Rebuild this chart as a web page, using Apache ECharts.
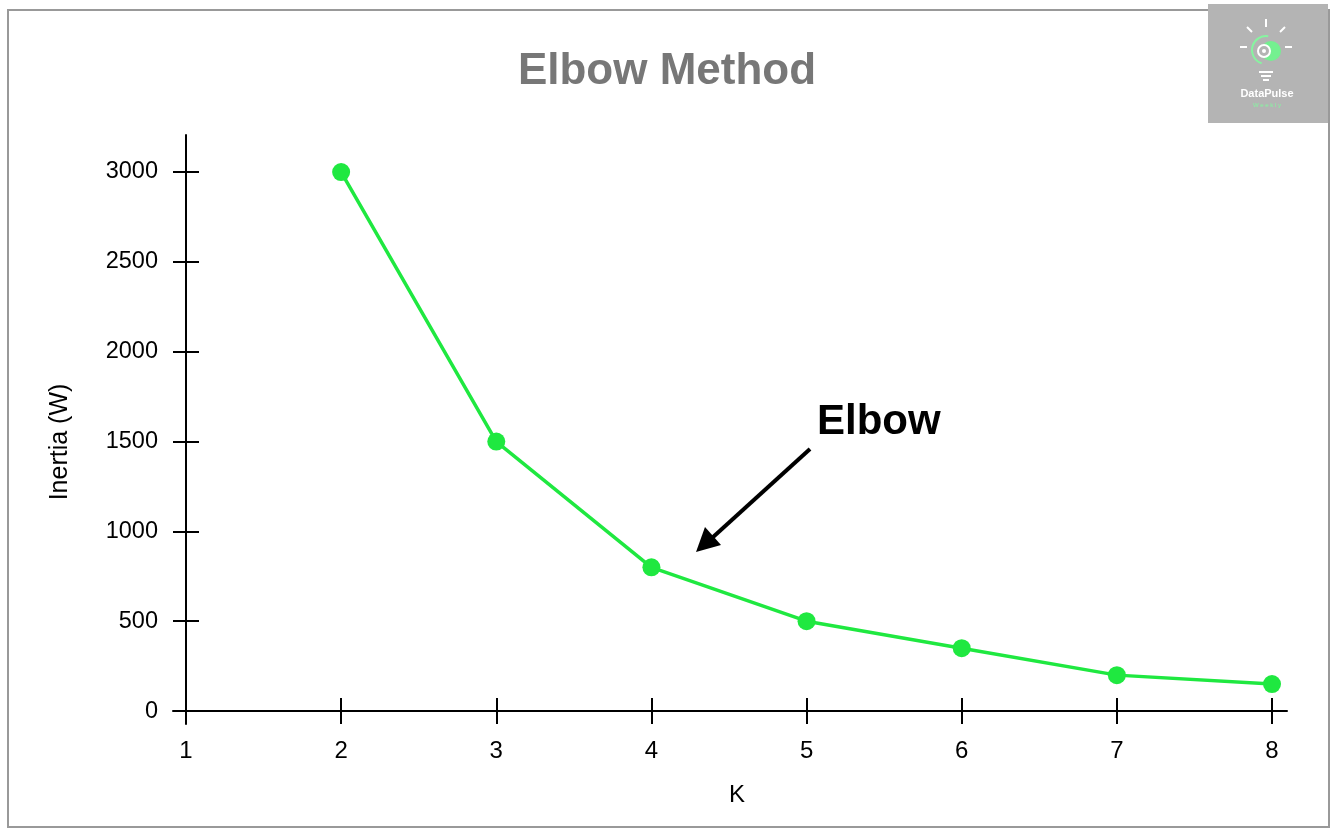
<!DOCTYPE html>
<html>
<head>
<meta charset="utf-8">
<script src="https://cdn.jsdelivr.net/npm/echarts@6/dist/echarts.min.js"></script>
<style>html,body{margin:0;padding:0;background:#fff;}#c{width:1338px;height:832px;}</style>
</head>
<body>
<div id="c"></div>
<script>
const kValues = [2, 3, 4, 5, 6, 7, 8];
const inertia = [3000, 1500, 800, 500, 350, 200, 150];
const xTicks = [1, 2, 3, 4, 5, 6, 7, 8];
const yTicks = [0, 500, 1000, 1500, 2000, 2500, 3000];

const FONT = '"Liberation Sans", Arial, sans-serif';
const chart = echarts.init(document.getElementById('c'));

const xBase = {
  type: 'value', min: 0.9162, max: 8.0967,
  splitLine: { show: false },
  axisLine: { show: true, onZero: true, lineStyle: { color: '#000', width: 2 } },
  axisTick: { show: true, length: 13, customValues: xTicks, lineStyle: { color: '#000', width: 2 } },
};
const yBase = {
  type: 'value', min: -72, max: 3206, offset: -13, position: 'left',
  splitLine: { show: false },
  axisLine: { show: true, lineStyle: { color: '#000', width: 2 } },
  axisTick: { show: true, length: 13, customValues: yTicks, lineStyle: { color: '#000', width: 2 } },
};

chart.setOption({
  backgroundColor: '#fff',
  animation: false,
  grid: { left: 173, right: 51, top: 135, bottom: 108 },
  xAxis: [
    Object.assign({}, xBase, {
      name: 'K', nameLocation: 'middle', nameGap: 59,
      nameTextStyle: { fontFamily: FONT, fontSize: 24, color: '#000', padding: [0, 0, 0, 14] },
      axisLabel: { show: true, customValues: xTicks, margin: 15, fontFamily: FONT, fontSize: 24, color: '#000', formatter: v => String(v) }
    }),
    Object.assign({}, xBase, {
      position: 'bottom',
      axisLine: { show: false },
      axisTick: { show: true, inside: true, length: 13, customValues: xTicks, lineStyle: { color: '#000', width: 2 } },
      axisLabel: { show: false }
    })
  ],
  yAxis: [
    Object.assign({}, yBase, {
      axisLabel: { show: true, customValues: yTicks, margin: 28, fontFamily: FONT, fontSize: 23.5, color: '#000', formatter: v => String(v) }
    }),
    Object.assign({}, yBase, {
      axisLine: { show: false },
      axisTick: { show: true, inside: true, length: 13, customValues: yTicks, lineStyle: { color: '#000', width: 2 } },
      axisLabel: { show: false }
    })
  ],
  series: [{
    type: 'line',
    data: kValues.map((k, i) => [k, inertia[i]]),
    symbol: 'circle', symbolSize: 18,
    lineStyle: { color: '#1fe840', width: 3.5 },
    itemStyle: { color: '#1fe840' },
    clip: false
  }],
  graphic: [
    { type: 'rect', shape: { x: 8, y: 10, width: 1321, height: 817 }, style: { fill: 'none', stroke: '#999', lineWidth: 2 }, z: 0 },
    { type: 'text', x: 60, y: 442, rotation: Math.PI / 2, style: { text: 'Inertia (W)', fontFamily: FONT, fontSize: 25, fill: '#000', align: 'center', verticalAlign: 'middle' } },
    { type: 'text', x: 667, y: 72, style: { text: 'Elbow Method', fontFamily: FONT, fontSize: 44, fontWeight: 'bold', fill: '#777', align: 'center', verticalAlign: 'middle' } },
    { type: 'text', x: 817, y: 422, style: { text: 'Elbow', fontFamily: FONT, fontSize: 42, fontWeight: 'bold', fill: '#000', align: 'left', verticalAlign: 'middle' } },
    { type: 'line', shape: { x1: 810, y1: 449, x2: 712, y2: 538 }, style: { stroke: '#000', lineWidth: 4 } },
    { type: 'polygon', shape: { points: [[696, 552], [705, 527], [721, 545]] }, style: { fill: '#000' } },
    // logo
    { type: 'group', z: 10, children: [
      { type: 'rect', shape: { x: 1208, y: 4, width: 120, height: 119 }, style: { fill: '#b4b4b4' } },
      { type: 'line', shape: { x1: 1266, y1: 19, x2: 1266, y2: 27 }, style: { stroke: '#fff', lineWidth: 2 } },
      { type: 'line', shape: { x1: 1247, y1: 27, x2: 1252, y2: 32 }, style: { stroke: '#fff', lineWidth: 2 } },
      { type: 'line', shape: { x1: 1285, y1: 27, x2: 1280, y2: 32 }, style: { stroke: '#fff', lineWidth: 2 } },
      { type: 'line', shape: { x1: 1240, y1: 47, x2: 1247, y2: 47 }, style: { stroke: '#fff', lineWidth: 2 } },
      { type: 'line', shape: { x1: 1285, y1: 47, x2: 1292, y2: 47 }, style: { stroke: '#fff', lineWidth: 2 } },
      { type: 'arc', shape: { cx: 1266, cy: 50, r: 14, startAngle: Math.PI * 0.6, endAngle: Math.PI * 1.55 }, style: { stroke: '#86f5a0', lineWidth: 2, fill: 'none' } },
      { type: 'circle', shape: { cx: 1271, cy: 51, r: 10 }, style: { fill: '#74f090' } },
      { type: 'circle', shape: { cx: 1264, cy: 51, r: 6 }, style: { fill: '#b4b4b4', stroke: '#fff', lineWidth: 2 } },
      { type: 'circle', shape: { cx: 1264, cy: 51, r: 2 }, style: { fill: '#fff' } },
      { type: 'line', shape: { x1: 1259, y1: 72, x2: 1273, y2: 72 }, style: { stroke: '#fff', lineWidth: 2 } },
      { type: 'line', shape: { x1: 1261, y1: 76, x2: 1271, y2: 76 }, style: { stroke: '#fff', lineWidth: 2 } },
      { type: 'line', shape: { x1: 1263, y1: 80, x2: 1269, y2: 80 }, style: { stroke: '#fff', lineWidth: 2 } },
      { type: 'text', x: 1267, y: 94, style: { text: 'DataPulse', fontFamily: FONT, fontSize: 11, fontWeight: 'bold', fill: '#fff', align: 'center', verticalAlign: 'middle' } },
      { type: 'text', x: 1267, y: 105, style: { text: 'W e e k l y', fontFamily: FONT, fontSize: 6, fill: '#86f5a0', align: 'center', verticalAlign: 'middle' } }
    ]}
  ]
});
</script>
</body>
</html>
